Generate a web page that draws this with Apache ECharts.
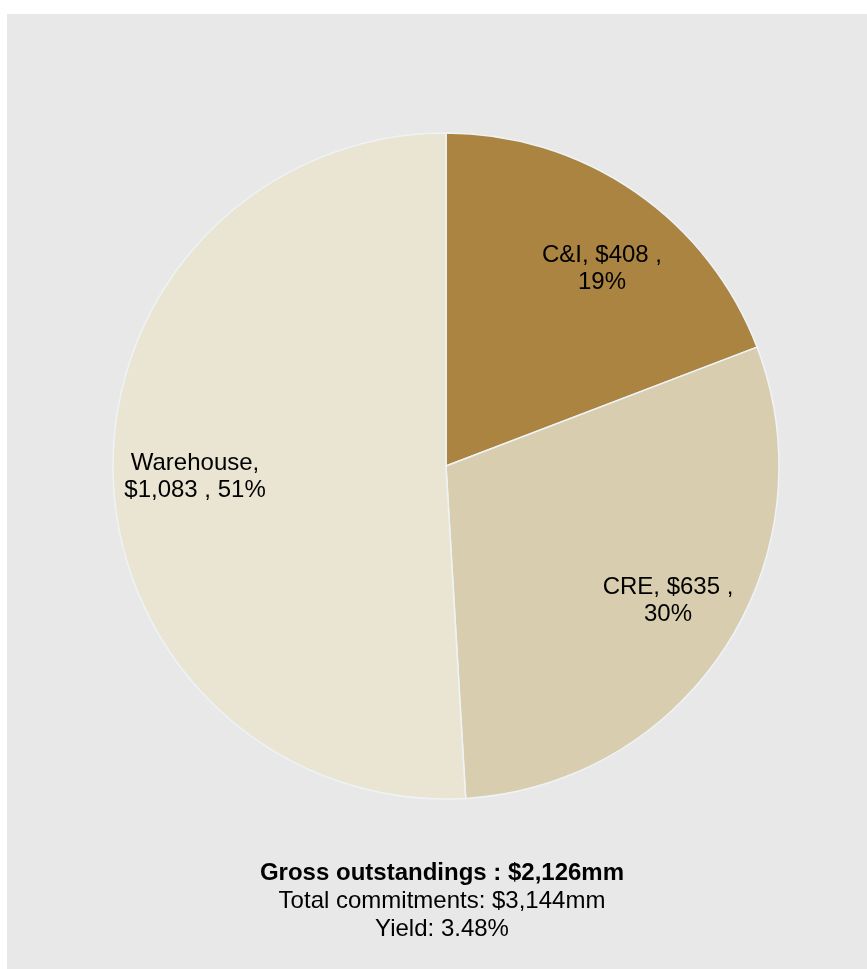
<!DOCTYPE html>
<html>
<head>
<meta charset="utf-8">
<script src="https://cdn.jsdelivr.net/npm/echarts@6/dist/echarts.min.js"></script>
<style>
  html, body { margin: 0; padding: 0; background: #ffffff; }
  #panel { position: absolute; left: 7px; top: 14px; width: 860px; height: 955px; background: #e8e8e8; }
  #chart { width: 860px; height: 955px; }
</style>
</head>
<body>
<div id="panel"><div id="chart"></div></div>
<script>
// Loan portfolio mix ($mm)
const categories = ['C&I', 'CRE', 'Warehouse'];
const balances = [408, 635, 1083];
const shares = [19, 30, 51];
const sliceColors = ['#ab8442', '#d8cdaf', '#eae4d2'];
const footerLines = ['Gross outstandings : $2,126mm', 'Total commitments: $3,144mm', 'Yield: 3.48%'];

// Label anchor points within the panel (px)
const labelSpots = [[595, 255], [661, 587], [188, 463]];

const chart = echarts.init(document.getElementById('chart'), null, { renderer: 'canvas' });

const labelText = [
  categories[0] + ', $' + balances[0] + ' ,\n' + shares[0] + '%',
  categories[1] + ', $' + balances[1] + ' ,\n' + shares[1] + '%',
  categories[2] + ',\n$' + balances[2].toLocaleString('en-US') + ' , ' + shares[2] + '%'
];

chart.setOption({
  backgroundColor: '#e8e8e8',
  animation: false,
  series: [{
    type: 'pie',
    center: [439, 452],
    radius: [0, 333],
    startAngle: 90,
    clockwise: true,
    silent: true,
    data: categories.map((c, i) => ({
      name: c,
      value: balances[i],
      itemStyle: { color: sliceColors[i] },
      label: { formatter: labelText[i] }
    })),
    itemStyle: { borderColor: '#eef3f6', borderWidth: 1.5 },
    label: {
      show: true,
      position: 'inside',
      color: '#000000',
      fontFamily: 'Liberation Sans, Arial, sans-serif',
      fontSize: 24,
      lineHeight: 27,
      align: 'center'
    },
    labelLine: { show: false },
    labelLayout: (p) => ({ x: labelSpots[p.dataIndex][0], y: labelSpots[p.dataIndex][1], align: 'center', verticalAlign: 'middle' })
  }],
  graphic: footerLines.map((t, i) => ({
    type: 'text',
    x: 435,
    y: 859 + i * 28,
    style: {
      text: t,
      fill: '#000000',
      font: (i === 0 ? 'bold ' : '') + '24px "Liberation Sans", Arial, sans-serif',
      align: 'center',
      verticalAlign: 'middle'
    }
  }))
});
</script>
</body>
</html>
